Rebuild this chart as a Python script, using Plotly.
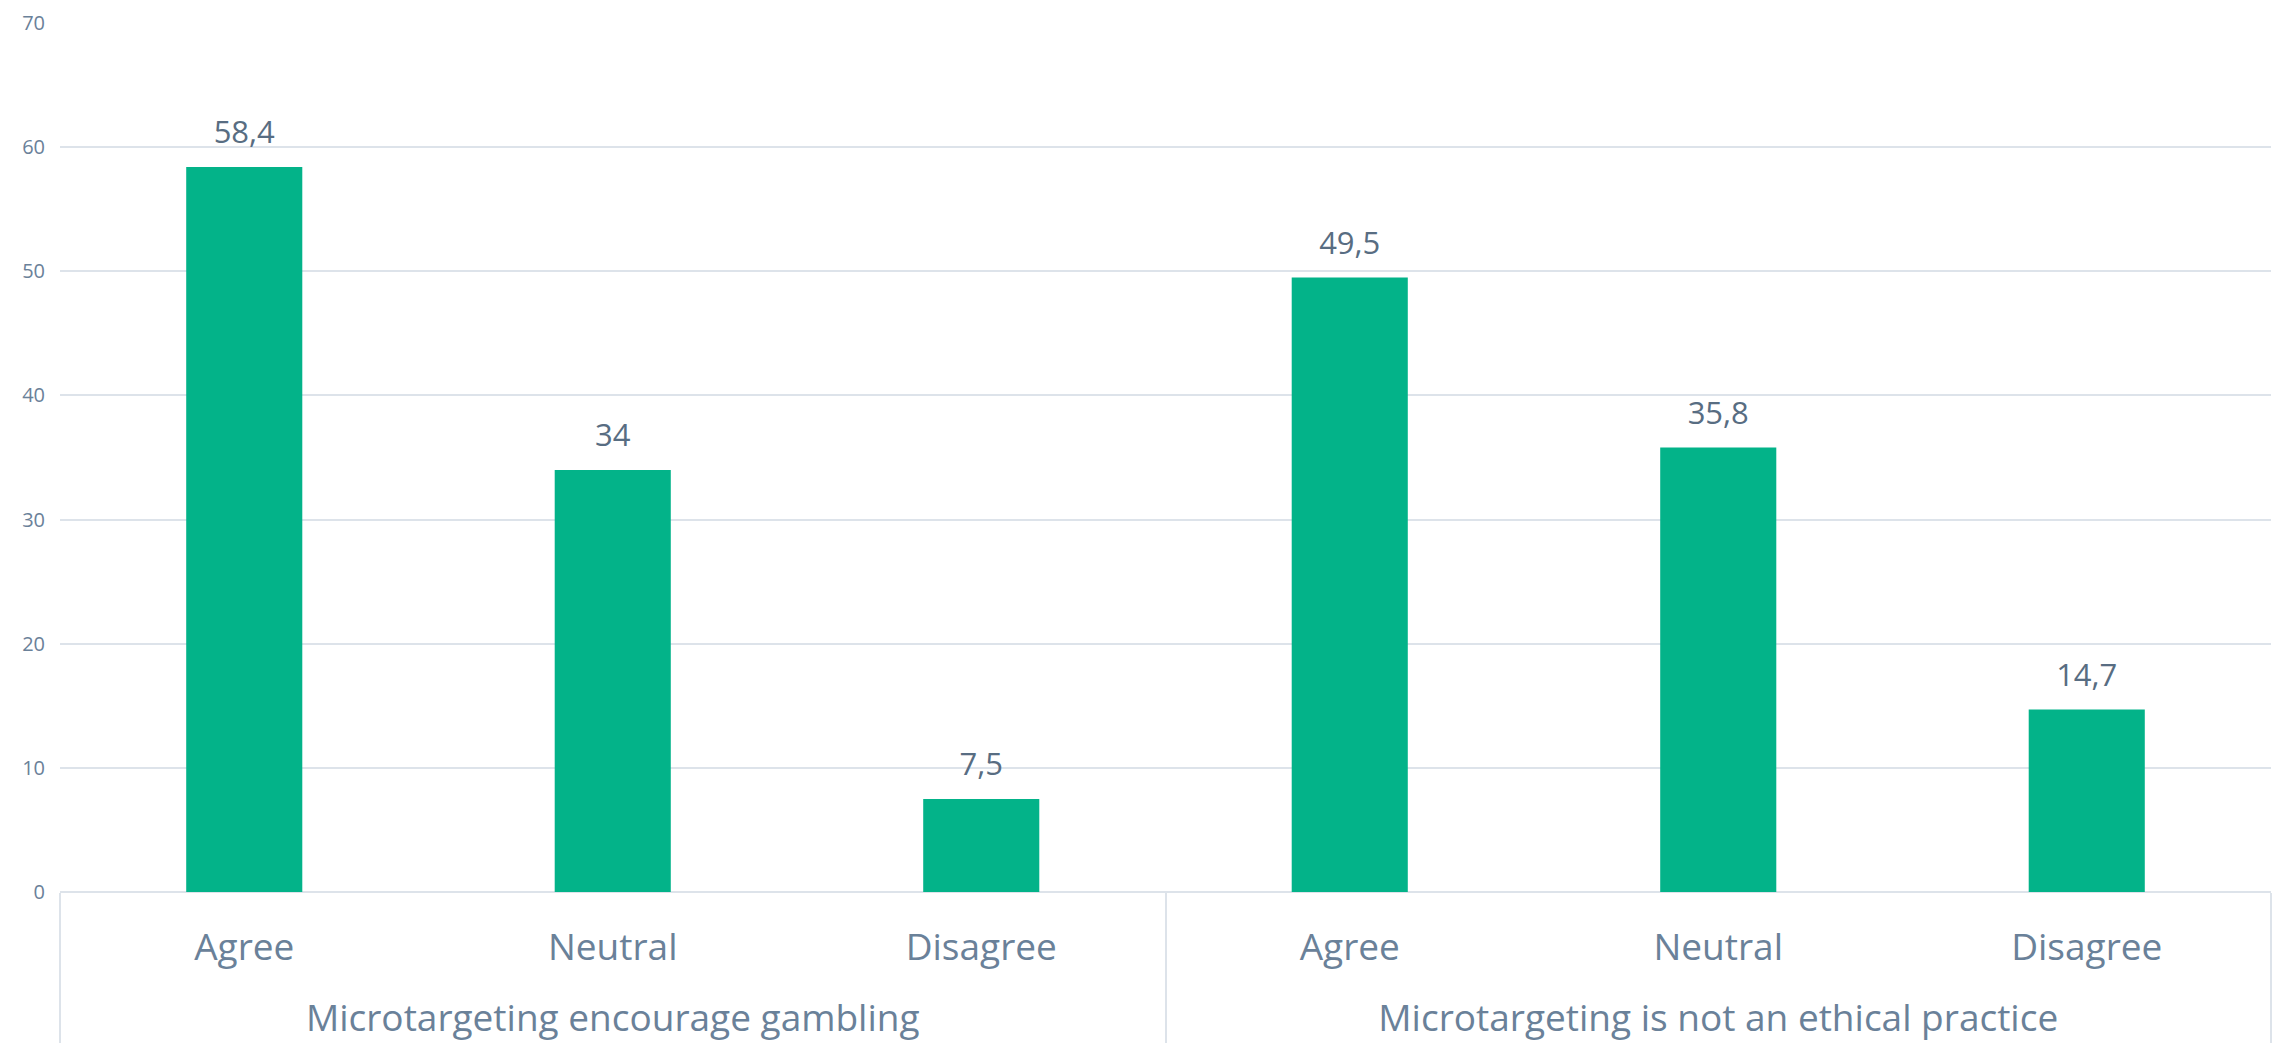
import plotly.graph_objects as go

groups = ["Microtargeting encourage gambling"] * 3 + ["Microtargeting is not an ethical practice"] * 3
categories = ["Agree", "Neutral", "Disagree", "Agree", "Neutral", "Disagree"]
values = [58.4, 34, 7.5, 49.5, 35.8, 14.7]
labels = [str(v).replace(".", ",") for v in values]

# leading line break pushes the group (second-level) labels lower, as in the reference
group_ticks = ["<br>" + g for g in groups]

fig = go.Figure()
fig.add_trace(
    go.Bar(
        x=[group_ticks, categories],
        y=values,
        marker=dict(color="#03b389", line=dict(width=0)),
        hoverinfo="skip",
    )
)
fig.add_trace(
    go.Scatter(
        x=[group_ticks, categories],
        y=values,
        mode="markers+text",
        text=labels,
        textposition="top center",
        textfont=dict(size=31, color="#586d82", family="Open Sans"),
        marker=dict(size=24, opacity=0),
        cliponaxis=False,
        hoverinfo="skip",
    )
)

fig.update_layout(
    width=2280,
    height=1051,
    margin=dict(l=60, r=9, t=17, b=158),
    paper_bgcolor="white",
    plot_bgcolor="white",
    bargap=0.685,
    showlegend=False,
    font=dict(family="Open Sans", color="#6a8199"),
)
fig.update_yaxes(
    range=[0, 70],
    dtick=10,
    showgrid=True,
    gridcolor="#dde3ea",
    gridwidth=2,
    zeroline=True,
    zerolinecolor="#dde3ea",
    zerolinewidth=2,
    tickfont=dict(size=20, color="#6a8199"),
    ticks="",
    ticklabelstandoff=14,
)
fig.update_xaxes(
    tickfont=dict(size=37, color="#6a8199"),
    showline=False,
    showdividers=True,
    dividercolor="#dde3ea",
    dividerwidth=2,
    ticks="",
    ticklabelstandoff=30,
)

fig.write_html("out.html")
